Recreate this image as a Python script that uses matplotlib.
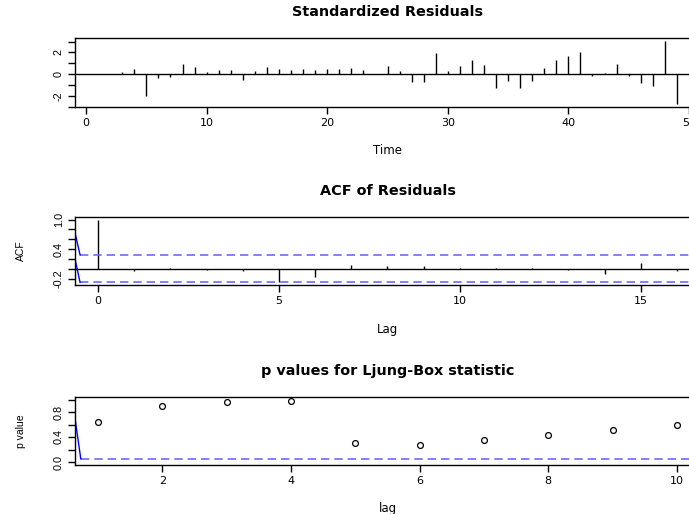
import numpy as np
import matplotlib.pyplot as plt

plt.rcParams['font.family'] = ['DejaVu Sans']

# standardized residuals, t = 1..49
time = list(range(1, 50))
std_resid = [0.0, 0.0, 0.18, 0.45, -2.03, -0.4, -0.3, 0.97, 0.64, 0.2,
             0.36, 0.39, -0.5, 0.3, 0.64, 0.45, 0.39, 0.48, 0.39, 0.48,
             0.48, 0.58, 0.39, 0.0, 0.73, 0.27, -0.76, -0.76, 1.94, 0.27,
             0.73, 1.3, 0.82, -1.27, -0.6, -1.27, -0.6, 0.55, 1.3, 1.67,
             2.0, -0.2, 0.12, 0.97, -0.2, -0.82, -1.06, 3.03, -2.73]

# ACF of residuals, lags 0..16
acf_lags = list(range(0, 17))
acf_vals = [1.0, -0.056, 0.02, -0.03, -0.055, -0.27, -0.17, 0.084, 0.056,
            0.05, 0.02, 0.02, 0.014, -0.03, -0.11, 0.12, -0.05]
acf_ci = 1.96 / np.sqrt(len(time))

# Ljung-Box p values, lags 1..10
lb_lags = list(range(1, 11))
lb_pvals = [0.64, 0.89, 0.96, 0.97, 0.31, 0.28, 0.35, 0.43, 0.505, 0.595]
lb_level = 0.05

# stray blue segments at the left edge
acf_stray_x = [-0.64, -0.5]
acf_stray_hi = [0.73, acf_ci]
acf_stray_lo = [0.2, -acf_ci]
lb_stray_x = [0.64, 0.73]
lb_stray_y = [0.70, lb_level]

W, H = 689, 514
BLUE = '#0000ff'
DASH = '#6b6bff'
XTICK_FS = 8
YTICK_FS = 7.8
XLAB_FS = 8.5
YLAB_FS = 7.5
TITLE_FS = 10.4
VFONT = 'Liberation Sans'   # rotated text is narrower in the reference

fig = plt.figure(figsize=(W / 100, H / 100), dpi=100)


def panel(top, bottom, left=75, right=700):
    ax = fig.add_axes([left / W, 1 - bottom / H, (right - left) / W, (bottom - top) / H])
    for s in ax.spines.values():
        s.set_linewidth(1.0)
        s.set_color('black')
    ax.tick_params(direction='out', length=5, width=1, pad=3)
    ax.tick_params(axis='x', labelsize=XTICK_FS)
    return ax, bottom - top


def titles(ax, hpx, title, xlabel, ylabel=None):
    ax.text(0.5, 1 + 26 / hpx, title, transform=ax.transAxes, ha='center',
            va='center', fontsize=TITLE_FS, fontweight='bold')
    ax.text(0.5, -44 / hpx, xlabel, transform=ax.transAxes, ha='center',
            va='center', fontsize=XLAB_FS)
    if ylabel:
        ax.text(-54 / 625, 0.5, ylabel, transform=ax.transAxes, ha='center',
                va='center', rotation=90, fontsize=YLAB_FS, family=VFONT)


def ylabels(ax, ticks, shown):
    ax.set_yticks(ticks)
    ax.set_yticklabels([shown.get(round(t, 2), '') for t in ticks],
                       rotation=90, va='center', fontsize=YTICK_FS, family=VFONT)


# panel 1: standardized residuals
ax1, h1 = panel(38, 107)
ax1.vlines(time, 0, std_resid, color='black', lw=1)
ax1.axhline(0, color='black', lw=1)
ax1.set_xlim(-0.92, 50.92)
ax1.set_ylim(-3.04, 3.34)
ax1.set_xticks([0, 10, 20, 30, 40, 50])
ylabels(ax1, [-3, -2, -1, 0, 1, 2, 3], {-2: '-2', 0: '0', 2: '2'})
titles(ax1, h1, 'Standardized Residuals', 'Time')

# panel 2: ACF of residuals
ax2, h2 = panel(217, 285)
ax2.vlines(acf_lags, 0, acf_vals, color='black', lw=1)
ax2.axhline(0, color='black', lw=1)
for y in (acf_ci, -acf_ci):
    ax2.hlines(y, acf_stray_x[-1], 17, color=DASH, lw=1.2, linestyles=(0, (5, 3)))
ax2.plot(acf_stray_x, acf_stray_hi, color=BLUE, lw=1)
ax2.plot(acf_stray_x, acf_stray_lo, color=BLUE, lw=1)
ax2.set_xlim(-0.64, 16.64)
ax2.set_ylim(-0.331, 1.051)
ax2.set_xticks([0, 5, 10, 15])
ylabels(ax2, [-0.2, 0.0, 0.2, 0.4, 0.6, 0.8, 1.0],
        {-0.2: '-0.2', 0.4: '0.4', 1.0: '1.0'})
titles(ax2, h2, 'ACF of Residuals', 'Lag', 'ACF')

# panel 3: Ljung-Box p values
ax3, h3 = panel(397, 464.5)
ax3.plot(lb_lags, lb_pvals, 'o', mfc='none', mec='black', ms=4.2, mew=0.9)
ax3.hlines(lb_level, lb_stray_x[-1], 11, color=DASH, lw=1.2, linestyles=(0, (5, 3)))
ax3.plot(lb_stray_x, lb_stray_y, color=BLUE, lw=1)
ax3.set_xlim(0.64, 10.36)
ax3.set_ylim(-0.04, 1.04)
ax3.set_xticks([2, 4, 6, 8, 10])
ylabels(ax3, [0.0, 0.2, 0.4, 0.6, 0.8, 1.0], {0.0: '0.0', 0.4: '0.4', 0.8: '0.8'})
titles(ax3, h3, 'p values for Ljung-Box statistic', 'lag', 'p value')

fig.savefig('out.png', dpi=100)
